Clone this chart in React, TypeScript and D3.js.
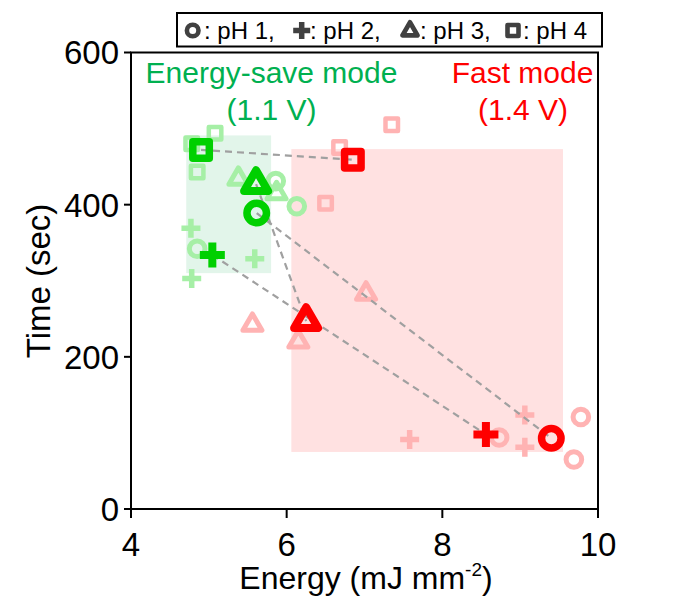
import React from "react";
import * as d3 from "d3";

type Shape = "circle" | "plus" | "triangle" | "square";

const shapes: Shape[] = ["circle", "plus", "triangle", "square"];
const legendLabels = [": pH 1,", ": pH 2,", ": pH 3,", ": pH 4"];

// bold (average) points, order: circle, plus, triangle, square
const greenMainX = [5.615, 5.045, 5.607, 4.9];
const greenMainY = [389, 334, 427, 472];
const redMainX = [9.4, 8.56, 6.25, 6.85];
const redMainY = [93, 98, 247, 459];

// faint (individual) points
const greenFaintShape: Shape[] = ["circle", "circle", "circle", "plus", "plus", "plus", "triangle", "triangle", "square", "square", "square"];
const greenFaintX = [5.86, 6.13, 4.85, 4.77, 5.59, 4.78, 5.38, 5.87, 5.08, 4.78, 4.85];
const greenFaintY = [431, 398, 342, 369, 329, 303, 434, 415, 494, 480, 443];
const redFaintShape: Shape[] = ["circle", "circle", "circle", "plus", "plus", "plus", "triangle", "triangle", "triangle", "square", "square", "square"];
const redFaintX = [8.73, 9.78, 9.69, 7.58, 9.06, 9.06, 5.56, 6.15, 7.02, 7.35, 6.68, 6.5];
const redFaintY = [94, 121, 65, 91.5, 123.5, 81, 242, 220, 283, 505, 475, 402];

// shaded mode regions [x0, x1, y0, y1]
const greenRegion = [4.71, 5.8, 310, 491];
const redRegion = [6.06, 9.55, 75, 473];

const xTicks = [4, 6, 8, 10];
const yTicks = [0, 200, 400, 600];

const FONT = "'Liberation Sans', Arial, sans-serif";
const GREEN = "#00D000";
const GREEN_FAINT = "#A6EFA6";
const RED = "#FF0000";
const RED_FAINT = "#FFB3B3";

const x = d3.scaleLinear().domain([4, 10]).range([131, 598]);
const y = d3.scaleLinear().domain([0, 600]).range([509, 52.5]);

function Marker({ shape, cx, cy, color, size }: { shape: Shape; cx: number; cy: number; color: string; size: "big" | "small" | "legend" }) {
  const p = {
    big: { r: 9.75, cw: 7.5, pl: 25, pt: 8, ts: 24, tw: 8, sq: 16.5, sw: 7.5 },
    small: { r: 7.8, cw: 5, pl: 19, pt: 5.5, ts: 19, tw: 5, sq: 12.5, sw: 4.5 },
    legend: { r: 5.8, cw: 4.6, pl: 17, pt: 5.5, ts: 15, tw: 4.8, sq: 11, sw: 4.6 },
  }[size];
  const t = `translate(${cx},${cy})`;
  if (shape === "circle") {
    return <circle transform={t} r={p.r} fill="none" stroke={color} strokeWidth={p.cw} />;
  }
  if (shape === "plus") {
    const h = p.pl / 2;
    const path = d3.path();
    path.moveTo(-h, 0);
    path.lineTo(h, 0);
    path.moveTo(0, -h);
    path.lineTo(0, h);
    return <path transform={t} d={path.toString()} fill="none" stroke={color} strokeWidth={p.pt} />;
  }
  if (shape === "triangle") {
    const s = p.ts;
    const hh = s * Math.sqrt(3) / 2;
    const path = d3.path();
    path.moveTo(0, (-2 * hh) / 3);
    path.lineTo(s / 2, hh / 3);
    path.lineTo(-s / 2, hh / 3);
    path.closePath();
    return <path transform={t} d={path.toString()} fill="none" stroke={color} strokeWidth={p.tw} strokeLinejoin="round" />;
  }
  const a = p.sq;
  return <rect transform={t} x={-a / 2} y={-a / 2} width={a} height={a} fill="none" stroke={color} strokeWidth={p.sw} strokeLinejoin="round" />;
}

export default function App() {
  const legendMarkX = [192.7, 301.7, 410, 513];
  const legendTextX = [204, 310, 420, 523];
  return (
    <svg width={677} height={600} style={{ position: "absolute", left: 0, top: 0 }} fontFamily={FONT}>
      <rect width={677} height={600} fill="#fff" />
      {/* regions */}
      <rect x={x(greenRegion[0])} y={y(greenRegion[3])} width={x(greenRegion[1]) - x(greenRegion[0])} height={y(greenRegion[2]) - y(greenRegion[3])} fill="#E2F5EA" />
      <rect x={x(redRegion[0])} y={y(redRegion[3])} width={x(redRegion[1]) - x(redRegion[0])} height={y(redRegion[2]) - y(redRegion[3])} fill="#FFE1E1" />
      {/* faint points */}
      {greenFaintShape.map((s, i) => (
        <Marker key={"gf" + i} shape={s} cx={x(greenFaintX[i])} cy={y(greenFaintY[i])} color={GREEN_FAINT} size="small" />
      ))}
      {redFaintShape.map((s, i) => (
        <Marker key={"rf" + i} shape={s} cx={x(redFaintX[i])} cy={y(redFaintY[i])} color={RED_FAINT} size="small" />
      ))}
      {/* dashed connectors */}
      {shapes.map((s, i) => (
        <line key={"dl" + i} x1={x(greenMainX[i])} y1={y(greenMainY[i])} x2={x(redMainX[i])} y2={y(redMainY[i])} stroke="#A0A0A0" strokeWidth={2.2} strokeDasharray="7,5" />
      ))}
      {/* main points */}
      {shapes.map((s, i) => (
        <Marker key={"gm" + i} shape={s} cx={x(greenMainX[i])} cy={y(greenMainY[i])} color={GREEN} size="big" />
      ))}
      {shapes.map((s, i) => (
        <Marker key={"rm" + i} shape={s} cx={x(redMainX[i])} cy={y(redMainY[i])} color={RED} size="big" />
      ))}
      {/* frame */}
      <rect x={131} y={52.5} width={598 - 131} height={509 - 52.5} fill="none" stroke="#000" strokeWidth={2} />
      {xTicks.map((t) => (
        <g key={"xt" + t}>
          <line x1={x(t)} x2={x(t)} y1={509} y2={518} stroke="#000" strokeWidth={2} />
          <text x={x(t)} y={556} textAnchor="middle" fontSize={33} fill="#000">{t}</text>
        </g>
      ))}
      {yTicks.map((t) => (
        <g key={"yt" + t}>
          <line x1={124} x2={131} y1={y(t)} y2={y(t)} stroke="#000" strokeWidth={2} />
          <text x={119} y={y(t)} dy="0.36em" textAnchor="end" fontSize={33} fill="#000">{t}</text>
        </g>
      ))}
      <text x={366} y={589} textAnchor="middle" fontSize={32} fill="#000">
        Energy (mJ mm<tspan dy={-13} fontSize={19}>-2</tspan><tspan dy={13}>)</tspan>
      </text>
      <text transform="translate(50,281) rotate(-90)" textAnchor="middle" fontSize={33} fill="#000">Time (sec)</text>
      {/* annotations */}
      <text x={271.5} y={83} textAnchor="middle" fontSize={30} fill="#00B050">Energy-save mode</text>
      <text x={271.5} y={120} textAnchor="middle" fontSize={30} fill="#00B050">(1.1 V)</text>
      <text x={522.5} y={83} textAnchor="middle" fontSize={30} fill={RED}>Fast mode</text>
      <text x={523} y={120} textAnchor="middle" fontSize={30} fill={RED}>(1.4 V)</text>
      {/* legend */}
      <rect x={177} y={13} width={602 - 177} height={33.5} fill="#fff" stroke="#000" strokeWidth={2} />
      {shapes.map((s, i) => (
        <g key={"lg" + i}>
          <Marker shape={s} cx={legendMarkX[i]} cy={s === "triangle" ? 31 : 30.5} color="#404040" size="legend" />
          <text x={legendTextX[i]} y={39} fontSize={24} fill="#000">{legendLabels[i]}</text>
        </g>
      ))}
    </svg>
  );
}
